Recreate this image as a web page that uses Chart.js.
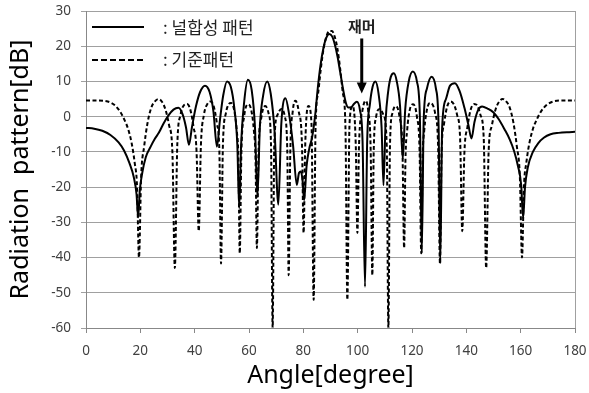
<!DOCTYPE html>
<html>
<head>
<meta charset="utf-8">
<script src="https://cdn.jsdelivr.net/npm/chart.js@4.4.1/dist/chart.umd.min.js"></script>
<style>
html,body{margin:0;padding:0;background:#fff;}
#c{display:block;}
</style>
</head>
<body>
<canvas id="c" width="589" height="393"></canvas>
<script>
// ---- data ----
const seriesLabels = ["널합성 패턴", "기준패턴"];
const xTickValues = [0, 20, 40, 60, 80, 100, 120, 140, 160, 180];
const yTickValues = [-60, -50, -40, -30, -20, -10, 0, 10, 20, 30];

// null-synthesized pattern (solid)
const nullAngles = [0,3,6,9,12,14,16,17.6,18.6,19.2,19.8,20.7,22,23.8,25.4,26.8,28.5,30.3,32.2,34,35.5,36.8,37.9,39,40.5,42,43.8,45.5,46.9,48.2,49.3,50.5,51.9,53.3,54.6,55.7,56.4,57.1,58.2,59.6,61,62.2,63.1,64,65.2,66.7,68,69.4,70.8,71.9,73.4,74.7,76.2,77.6,78.4,79.1,79.7,80.3,81.2,82.2,83.2,84.3,85.3,86.3,87.4,88.4,89.5,90.6,91.6,92.6,93.6,94.7,95.7,96.6,97.6,98.6,99.7,100.8,101.8,102.7,103.5,104.5,105.5,106.5,107.7,108.8,109.5,110.3,111.2,112.2,113.3,114.4,115.6,116.6,117.5,118.8,120.3,121.8,122.9,123.6,124.3,125.5,127.2,128.8,129.8,130.4,131.1,132.5,134,135.8,137.5,139.3,140.8,141.9,143,144.4,145.8,147.8,150,152,154,156,157.6,159,160.2,160.9,161.6,162.6,164.5,166.5,168.5,171,174,177,180];
const nullDb = [-3.2,-3.4,-4.0,-5.2,-7.3,-9.6,-13.2,-17.2,-22,-28.6,-21,-16,-11.5,-8.5,-6.2,-4.6,-2.0,0.3,2.0,2.5,0.8,-3,-8,-3,3,7,8.8,7,1.5,-8.5,-1,6,10,8.5,2.5,-8,-26,-8,4,10.5,7.5,-3,-22.8,-3,6,10,6.5,-4,-25,-2,5.2,1,-8,-19.4,-16,-15.6,-18,-23.7,-14,-9,-6,0,8,14.5,19.5,22.3,23.5,22.8,20.5,17,12.5,7.5,3.8,2.6,2.6,3.6,4.2,2,-7,-48.3,-7,3.5,8.5,10,6.5,-3,-19.5,-1,7,11.3,12.3,10,3,-12,2,10,12.8,10,0,-38.8,-1,8,11.3,8,-3,-41.6,-3,5,8.8,9.5,7.3,2.5,-2.5,-6.2,-1.5,2,2.9,2.3,1.2,-0.8,-3.5,-6.5,-9.8,-14,-19.5,-28.8,-20,-14.5,-10,-7.5,-6,-5,-4.6,-4.4,-4.3];

// reference pattern (dashed)
const refAngles = [0,4,8,10.5,12.5,14.2,15.5,16.8,17.9,18.8,19.5,20.3,21.4,22.6,24,25.3,26.6,27.9,29.3,30.6,31.8,32.7,33.6,34.8,36,37.2,38.4,39.6,40.7,41.5,42.3,43.4,44.6,45.8,47,48.2,49.1,49.7,50.4,51.5,52.5,53.4,54.5,55.5,56.1,56.6,57.2,58.2,59.6,60.8,61.8,62.4,62.9,63.5,64.6,66,67.2,68.1,68.7,69.3,70.5,71.9,73.2,74.1,74.6,75.2,76.1,77.1,78.3,79.5,80.1,80.7,81.9,83,83.8,84.5,85.5,86.5,87.5,88.5,89.5,90.5,91.5,92.5,93.5,94.5,95.5,96.2,97,98.1,99.3,99.9,100.5,101.7,102.9,103.9,104.8,105.4,105.9,106.8,108.1,109.5,110.7,111.3,111.9,112.8,114,115.4,116.5,117.1,117.6,118.2,119.2,120.4,121.8,122.8,123.4,123.9,124.5,125.5,126.6,127.5,128.5,129.6,130.3,130.9,131.8,133,134.2,135.4,136.6,137.7,138.5,139.3,140.4,141.6,142.8,144,145.2,146.4,147.3,148.2,149.4,150.7,152.1,153.4,154.7,156,157.4,158.6,159.7,160.5,161.2,162.1,163.2,164.5,165.8,167.5,169.5,172,176,180];
const refDb = [4.6,4.6,4.3,3.3,1.5,-1,-3.5,-7.5,-13,-20,-40,-17,-8.5,-2,2.5,4.3,5.0,4.3,1.9,-2.5,-10,-43,-8,0.5,3.2,3.6,2,-3,-10,-32.5,-8,0.5,3.5,4.3,3,-2,-10,-41.7,-8,1,3.5,3.9,2,-4,-12,-38.8,-10,0,3.5,2,-4,-12,-37.3,-10,0,3.0,1,-8,-60,-8,0.5,2.2,0,-10,-45,-10,1.5,4.5,1.5,-8,-33,-8,3,-2,-52,-3,7,14,19.5,22.8,24.3,24.3,22.8,19.5,14,7,-3,-52,-2,3,-8,-33,-8,1.5,4.5,1.5,-10,-45,-10,0,2.2,0.5,-8,-60,-8,1,3.0,0,-10,-37.3,-12,-4,2,3.5,0,-10,-38.8,-12,-4,2,3.9,3.5,1,-8,-41.7,-10,-2,3,4.3,3.5,0.5,-6,-32.5,-10,-3,2,3.6,3.2,0.5,-6,-43,-10,-2.5,1.9,4.3,5.0,4.3,2.5,-2,-8.5,-17,-40,-20,-13,-7.5,-3.5,-1,1.5,3.3,4.3,4.6,4.6];

// jammer annotation (in data units)
const jammerLabel = "재머";
const jammerAngle = 101.5;
const jammerTextDb = 25.7;
const jammerArrowFromDb = 22.2;
const jammerArrowToDb = 6.6;

const toPts = (xs, ys) => xs.map((x, i) => ({x: x, y: ys[i]}));

const latin = "'Noto Sans', 'Open Sans', sans-serif";
const kr = "'Noto Sans CJK KR', 'Noto Sans', sans-serif";

const overlay = {
  id: 'overlay',
  afterDraw(chart) {
    const ctx = chart.ctx, a = chart.chartArea;
    const xs = chart.scales.x, ys = chart.scales.y;
    ctx.save();
    // right border
    ctx.strokeStyle = '#a0a0a0';
    ctx.lineWidth = 1;
    ctx.beginPath();
    ctx.moveTo(Math.round(a.right) + 0.5, a.top);
    ctx.lineTo(Math.round(a.right) + 0.5, a.bottom);
    ctx.stroke();
    // legend inside the plot
    ctx.strokeStyle = '#000';
    ctx.lineWidth = 2;
    ctx.beginPath();
    ctx.setLineDash([]);
    ctx.moveTo(a.left + 6, 27); ctx.lineTo(a.left + 58, 27);
    ctx.stroke();
    ctx.beginPath();
    ctx.setLineDash([6, 3]);
    ctx.moveTo(a.left + 6, 60); ctx.lineTo(a.left + 58, 60);
    ctx.stroke();
    ctx.setLineDash([]);
    ctx.fillStyle = '#222';
    ctx.font = "17px " + kr;
    ctx.textBaseline = 'middle';
    ctx.textAlign = 'left';
    ctx.fillText(": " + seriesLabels[0], a.left + 77, 28);
    ctx.fillText(": " + seriesLabels[1], a.left + 77, 60);
    // jammer label and arrow
    const jx = xs.getPixelForValue(jammerAngle);
    ctx.font = "bold 15px " + kr;
    ctx.textAlign = 'center';
    ctx.fillText(jammerLabel, jx, ys.getPixelForValue(jammerTextDb));
    const y0 = ys.getPixelForValue(jammerArrowFromDb);
    const y1 = ys.getPixelForValue(jammerArrowToDb);
    ctx.fillStyle = '#000';
    ctx.fillRect(jx - 1.5, y0, 3, (y1 - y0) - 10);
    ctx.beginPath();
    ctx.moveTo(jx - 5, y1 - 11);
    ctx.lineTo(jx + 5, y1 - 11);
    ctx.lineTo(jx, y1);
    ctx.closePath();
    ctx.fill();
    ctx.restore();
  }
};

new Chart(document.getElementById('c'), {
  type: 'line',
  data: {
    datasets: [
      {
        label: seriesLabels[0],
        data: toPts(nullAngles, nullDb),
        borderColor: '#000',
        borderWidth: 2,
        pointRadius: 0,
        cubicInterpolationMode: 'monotone',
        fill: false
      },
      {
        label: seriesLabels[1],
        data: toPts(refAngles, refDb),
        borderColor: '#000',
        borderWidth: 2,
        borderDash: [4, 2.5],
        pointRadius: 0,
        cubicInterpolationMode: 'monotone',
        fill: false
      }
    ]
  },
  options: {
    responsive: false,
    animation: false,
    layout: {padding: {top: 11, right: 14, left: 0, bottom: 0}},
    plugins: {legend: {display: false}, tooltip: {enabled: false}},
    scales: {
      x: {
        type: 'linear', min: 0, max: 180,
        afterFit(s) { s.height = 65; s.paddingLeft = 0; s.paddingRight = 0; },
        afterBuildTicks(s) { s.ticks = xTickValues.map(v => ({value: v})); },
        ticks: {color: '#404040', font: {family: latin, size: 13.5}, padding: 10, maxRotation: 0},
        grid: {drawOnChartArea: false, drawTicks: true, tickLength: 5, color: '#888'},
        border: {color: '#888'},
        title: {display: true, text: 'Angle[degree]', color: '#000', font: {family: latin, size: 25}, padding: {top: 0, bottom: 2}}
      },
      y: {
        type: 'linear', min: -60, max: 30,
        afterFit(s) { s.width = 86; s.paddingTop = 0; s.paddingBottom = 0; },
        afterBuildTicks(s) { s.ticks = yTickValues.map(v => ({value: v})); },
        ticks: {color: '#404040', font: {family: latin, size: 13.5}, padding: 10},
        grid: {color: '#a0a0a0', tickLength: 5, drawTicks: true},
        border: {color: '#888'},
        title: {display: true, text: 'Radiation  pattern[dB]', color: '#000', font: {family: latin, size: 25}, padding: {top: 6, bottom: 0}}
      }
    }
  },
  plugins: [overlay]
});
</script>
</body>
</html>
